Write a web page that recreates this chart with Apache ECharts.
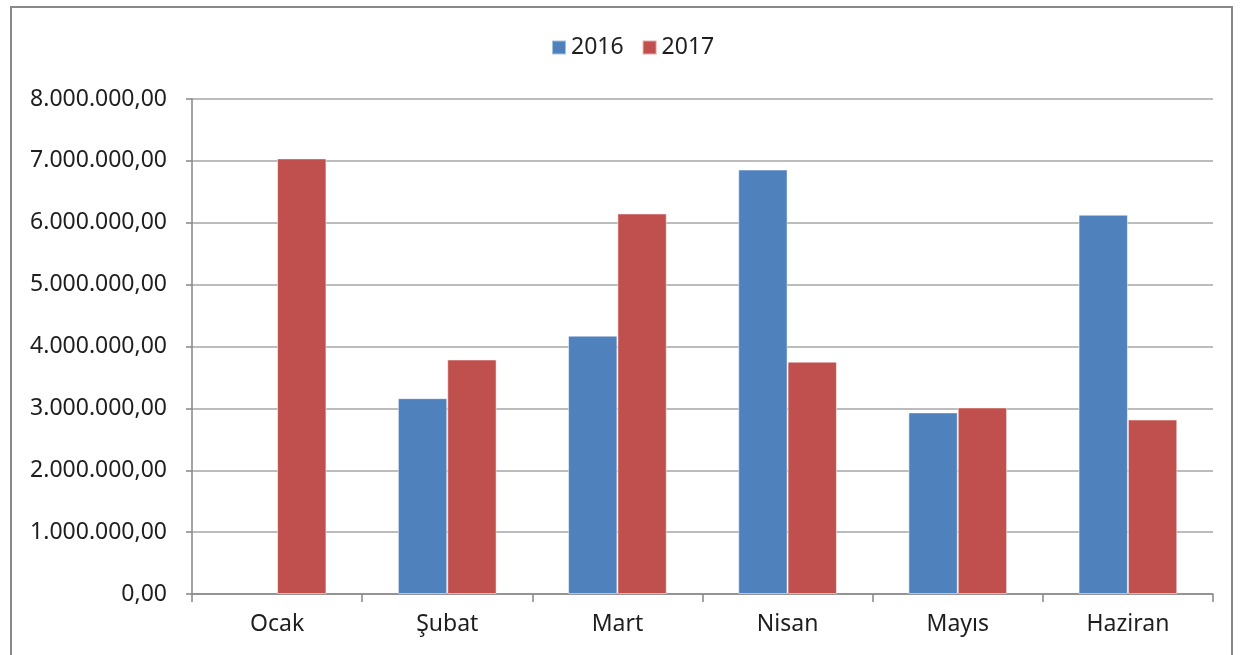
<!DOCTYPE html>
<html><head><meta charset="utf-8">
<script src="https://cdn.jsdelivr.net/npm/echarts@6/dist/echarts.min.js"></script>
<style>html,body{margin:0;padding:0;background:#fff}#c{width:1244px;height:655px}</style>
</head><body><div id="c"></div>
<script>
const categories = ['Ocak', 'Şubat', 'Mart', 'Nisan', 'Mayıs', 'Haziran'];
const seriesNames = ['2016', '2017'];
const values2016 = [null, 3165000, 4175000, 6860000, 2935000, 6130000];
const values2017 = [7040000, 3790000, 6150000, 3755000, 3015000, 2820000];
const yTicks = [0, 1000000, 2000000, 3000000, 4000000, 5000000, 6000000, 7000000, 8000000];

function fmt(v) {
  const s = Math.round(v).toString().replace(/\B(?=(\d{3})+(?!\d))/g, '.');
  return s + ',00';
}
const font = 'Noto Sans';
const txt = '#1e1e1e';
const chart = echarts.init(document.getElementById('c'), null, {renderer: 'canvas'});
chart.setOption({
  animation: false,
  color: ['#4F81BD', '#C0504D'],
  graphic: [{
    type: 'rect', shape: {x: 11, y: 7, width: 1221, height: 700},
    style: {fill: 'none', stroke: '#888', lineWidth: 2}, z: -1
  }],
  legend: {
    data: seriesNames, top: 31, left: 546,
    itemWidth: 14, itemHeight: 14, itemGap: 18,
    icon: 'rect',
    textStyle: {fontFamily: font, fontSize: 23, color: txt}
  },
  grid: {left: 192, right: 31, top: 99, bottom: 61, containLabel: false},
  xAxis: {
    type: 'category', data: categories,
    axisLine: {lineStyle: {color: '#868686', width: 1.5}},
    axisTick: {show: true, length: 8, alignWithLabel: false, lineStyle: {color: '#868686', width: 1.5}},
    axisLabel: {fontFamily: font, fontSize: 23, color: txt, margin: 19}
  },
  yAxis: {
    type: 'value', min: yTicks[0], max: yTicks[yTicks.length - 1], interval: 1000000,
    axisLine: {show: true, lineStyle: {color: '#868686', width: 1.5}},
    axisTick: {show: true, length: 6, lineStyle: {color: '#868686', width: 1.5}},
    splitLine: {lineStyle: {color: '#a6a6a6', width: 1.5}},
    axisLabel: {fontFamily: font, fontSize: 23, color: txt, margin: 25, formatter: fmt}
  },
  series: [
    {name: seriesNames[0], type: 'bar', data: values2016, barGap: '0%', barCategoryGap: '42%',
     itemStyle: {color: '#4F81BD', borderColor: 'rgba(255,255,255,0.5)', borderWidth: 1}},
    {name: seriesNames[1], type: 'bar', data: values2017, barGap: '0%', barCategoryGap: '42%',
     itemStyle: {color: '#C0504D', borderColor: 'rgba(255,255,255,0.5)', borderWidth: 1}}
  ]
});
</script></body></html>
